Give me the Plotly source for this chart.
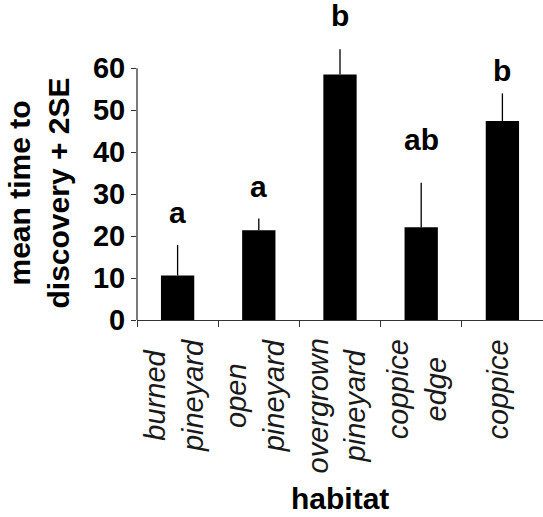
import plotly.graph_objects as go

# ---- data ----
habitats = ["burned<br>pineyard", "open<br>pineyard", "overgrown<br>pineyard", "coppice<br>edge", "coppice"]
mean_time = [10.6, 21.4, 58.5, 22.1, 47.4]
two_se = [7.3, 2.8, 6.0, 10.6, 6.6]
letters = ["a", "a", "b", "ab", "b"]
y_ticks = [0, 10, 20, 30, 40, 50, 60]

# ---- styling ----
FONT = "Liberation Sans, Arial, Helvetica, sans-serif"
letter_shift = [14, 13, 15, 25, 4]
AXIS_COLOR = "#333"

cats = list(range(len(habitats)))

fig = go.Figure()
fig.add_trace(go.Bar(
    x=cats, y=mean_time,
    width=0.41,
    marker=dict(color="black", line=dict(width=0)),
    error_y=dict(type="data", symmetric=False, array=two_se,
                 arrayminus=[0] * len(two_se), width=0, thickness=1.3, color="black"),
    cliponaxis=False,
    showlegend=False,
))

annotations = []
for i, (m, e, L) in enumerate(zip(mean_time, two_se, letters)):
    annotations.append(dict(
        x=cats[i], y=m + e, xref="x", yref="y", text="<b>%s</b>" % L,
        showarrow=False, yanchor="bottom", xanchor="center",
        yshift=letter_shift[i], font=dict(family=FONT, size=30, color="black"),
    ))

for i, h in enumerate(habitats):
    annotations.append(dict(
        x=cats[i], y=0, xref="x", yref="paper", text="<i>%s</i>" % h,
        showarrow=False, yanchor="top", xanchor="center", textangle=-90,
        align="center", yshift=-17, xshift=-4,
        font=dict(family=FONT, size=29, color="#1a1a1a"),
    ))

annotations.append(dict(
    x=0, y=0.5, xref="paper", yref="paper",
    text="<b>mean time to<br>discovery + 2SE</b>",
    showarrow=False, xanchor="center", yanchor="middle", textangle=-90,
    xshift=-99, yshift=-12, align="center",
    font=dict(family=FONT, size=30, color="black"),
))
annotations.append(dict(
    x=0.5, y=0, xref="paper", yref="paper", text="<b>habitat</b>",
    showarrow=False, xanchor="center", yanchor="bottom",
    yshift=-196, borderpad=0, font=dict(family=FONT, size=30, color="black"),
))

fig.update_layout(
    width=543, height=517,
    margin=dict(l=137, r=0, t=43, b=197),
    paper_bgcolor="white", plot_bgcolor="white",
    annotations=annotations,
    font=dict(family=FONT),
    shapes=[dict(type="line", xref="x domain", yref="y", x0=0, x1=0, y0=0, y1=max(y_ticks),
                 line=dict(color=AXIS_COLOR, width=1.3), layer="above")],
)
fig.update_xaxes(
    range=[-0.5, 4.5], tickmode="array", tickvals=[c - 0.5 for c in cats] + [4.5],
    showticklabels=False, ticks="outside", ticklen=6, tickwidth=1.3, tickcolor=AXIS_COLOR,
    showline=True, linecolor=AXIS_COLOR, linewidth=1.3, showgrid=False, zeroline=False,
)
fig.update_yaxes(
    range=[0, 66], tickvals=y_ticks, ticks="outside", ticklen=5, tickwidth=1.3,
    tickcolor=AXIS_COLOR, showline=False,
    showgrid=False, zeroline=False,
    tickfont=dict(family=FONT, size=29, color="black", weight="bold"),
)

fig.write_html("out.html", config={"displayModeBar": False},
               post_script="document.body.style.margin='0';")
